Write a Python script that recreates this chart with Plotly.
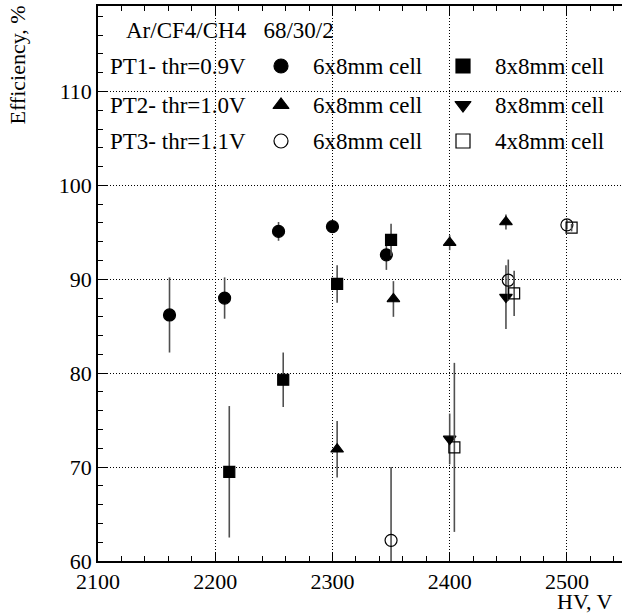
import plotly.graph_objects as go

# ---- data ----
pt1_c_x = [2161, 2208, 2254, 2300, 2346]
pt1_c_y = [86.2, 88.0, 95.1, 95.6, 92.6]
pt1_c_e = [4.0, 2.2, 1.0, 0.3, 1.6]

pt1_s_x = [2212, 2258, 2304, 2350]
pt1_s_y = [69.5, 79.3, 89.5, 94.2]
pt1_s_e = [7.0, 2.9, 2.0, 1.7]

pt2_tu_x = [2304, 2352, 2400, 2448]
pt2_tu_y = [71.9, 87.9, 93.9, 96.1]
pt2_tu_e = [3.0, 1.9, 0.8, 0.8]

pt2_td_x = [2400, 2448]
pt2_td_y = [73.0, 88.1]
pt2_td_e = [2.7, 3.4]

pt3_c_x = [2350, 2450, 2500]
pt3_c_y = [62.2, 89.9, 95.8]
pt3_c_e = [7.8, 2.2, 0.5]

pt3_s_x = [2404, 2455, 2504]
pt3_s_y = [72.1, 88.5, 95.5]
pt3_s_e = [9.0, 2.4, 0.4]

x_range = [2100, 2547]
y_range = [60, 119.1]

gas_label = "Ar/CF4/CH4 \u00a0\u00a068/30/2"
row_labels = ["PT1- thr=0.9V", "PT2- thr=1.0V", "PT3- thr=1.1V"]
col1_labels = ["6x8mm cell", "6x8mm cell", "6x8mm cell"]
col2_labels = ["8x8mm cell", "8x8mm cell", "4x8mm cell"]
col1_symbols = ["circle", "triangle-up", "circle-open"]
col2_symbols = ["square", "triangle-down", "square-open"]

FONT = "Liberation Serif, Times New Roman, Times, serif"
FS = 22
LFS = 23
W, H = 622, 616
ML, MR, MT, MB = 98, 0, 6, 55
PW, PH = W - ML - MR, H - MT - MB

# legend layout (pixel offsets within plot area)
row_y = [60, 99, 135]
lab_x = 10
sym1_x, txt1_x = 183, 213
sym2_x, txt2_x = 365, 395

ERR = "#505050"

fig = go.Figure()

def add(xs, ys, es, sym, size=11):
    fig.add_trace(go.Scatter(
        x=xs, y=ys, mode="markers",
        marker=dict(symbol=sym, size=size, color="black",
                    line=dict(color="black", width=1.2)),
        error_y=dict(type="data", array=es, color=ERR, thickness=1.6, width=0),
        showlegend=False, cliponaxis=True))

add(pt1_c_x, pt1_c_y, pt1_c_e, "circle", 12)
add(pt1_s_x, pt1_s_y, pt1_s_e, "square", 11)
add(pt2_tu_x, pt2_tu_y, pt2_tu_e, "triangle-up", 11)
add(pt2_td_x, pt2_td_y, pt2_td_e, "triangle-down", 11)
add(pt3_c_x, pt3_c_y, pt3_c_e, "circle-open", 12)
add(pt3_s_x, pt3_s_y, pt3_s_e, "square-open", 11)

# legend symbols on an overlay pixel axis
for i in range(3):
    for sx, sym in ((sym1_x, col1_symbols[i]), (sym2_x, col2_symbols[i])):
        fig.add_trace(go.Scatter(
            x=[sx], y=[row_y[i]], xaxis="x2", yaxis="y2", mode="markers",
            marker=dict(symbol=sym, size=14, color="black",
                        line=dict(color="black", width=1.2)),
            showlegend=False, hoverinfo="skip"))

annots = []
tf = dict(family=FONT, size=FS, color="black")
lf = dict(family=FONT, size=LFS, color="black")
annots.append(dict(x=26, y=24, xref="x2", yref="y2", text=gas_label,
                   showarrow=False, xanchor="left", yanchor="middle", font=lf))
for i in range(3):
    annots.append(dict(x=lab_x, y=row_y[i], xref="x2", yref="y2", text=row_labels[i],
                       showarrow=False, xanchor="left", yanchor="middle", font=lf))
    annots.append(dict(x=txt1_x, y=row_y[i], xref="x2", yref="y2", text=col1_labels[i],
                       showarrow=False, xanchor="left", yanchor="middle", font=lf))
    annots.append(dict(x=txt2_x, y=row_y[i], xref="x2", yref="y2", text=col2_labels[i],
                       showarrow=False, xanchor="left", yanchor="middle", font=lf))

annots.append(dict(x=(17 - ML) / PW, y=1 + (MT - 4) / PH, xref="paper", yref="paper",
                   text="Efficiency, %", textangle=-90, showarrow=False,
                   xanchor="center", yanchor="top", font=tf))
annots.append(dict(x=(614 - ML) / PW, y=-(MB - 1) / PH, xref="paper", yref="paper",
                   text="HV, V", showarrow=False, xanchor="right", yanchor="bottom",
                   borderpad=0, font=tf))

axis_common = dict(
    showline=True, linecolor="black", linewidth=1.5,
    ticks="inside", ticklen=9, tickwidth=1, tickcolor="black",
    showgrid=True, gridcolor="black", gridwidth=1, griddash="1px,2px",
    zeroline=False, tickfont=tf,
)

fig.update_layout(
    width=W, height=H,
    margin=dict(l=ML, r=MR, t=MT, b=MB, pad=0),
    paper_bgcolor="white", plot_bgcolor="white",
    font=tf,
    xaxis=dict(range=x_range, tick0=2100, dtick=100, mirror="ticks",
               minor=dict(dtick=20, ticks="inside", ticklen=5, tickcolor="black", showgrid=False),
               **axis_common),
    yaxis=dict(range=y_range, tick0=60, dtick=10,
               minor=dict(dtick=2, ticks="inside", ticklen=5, tickcolor="black", showgrid=False),
               **axis_common),
    xaxis2=dict(overlaying="x", range=[0, PW], visible=False, anchor="y2"),
    yaxis2=dict(overlaying="y", range=[PH, 0], visible=False, anchor="x2"),
    annotations=annots,
    showlegend=False,
)

fig.write_html("out.html")
